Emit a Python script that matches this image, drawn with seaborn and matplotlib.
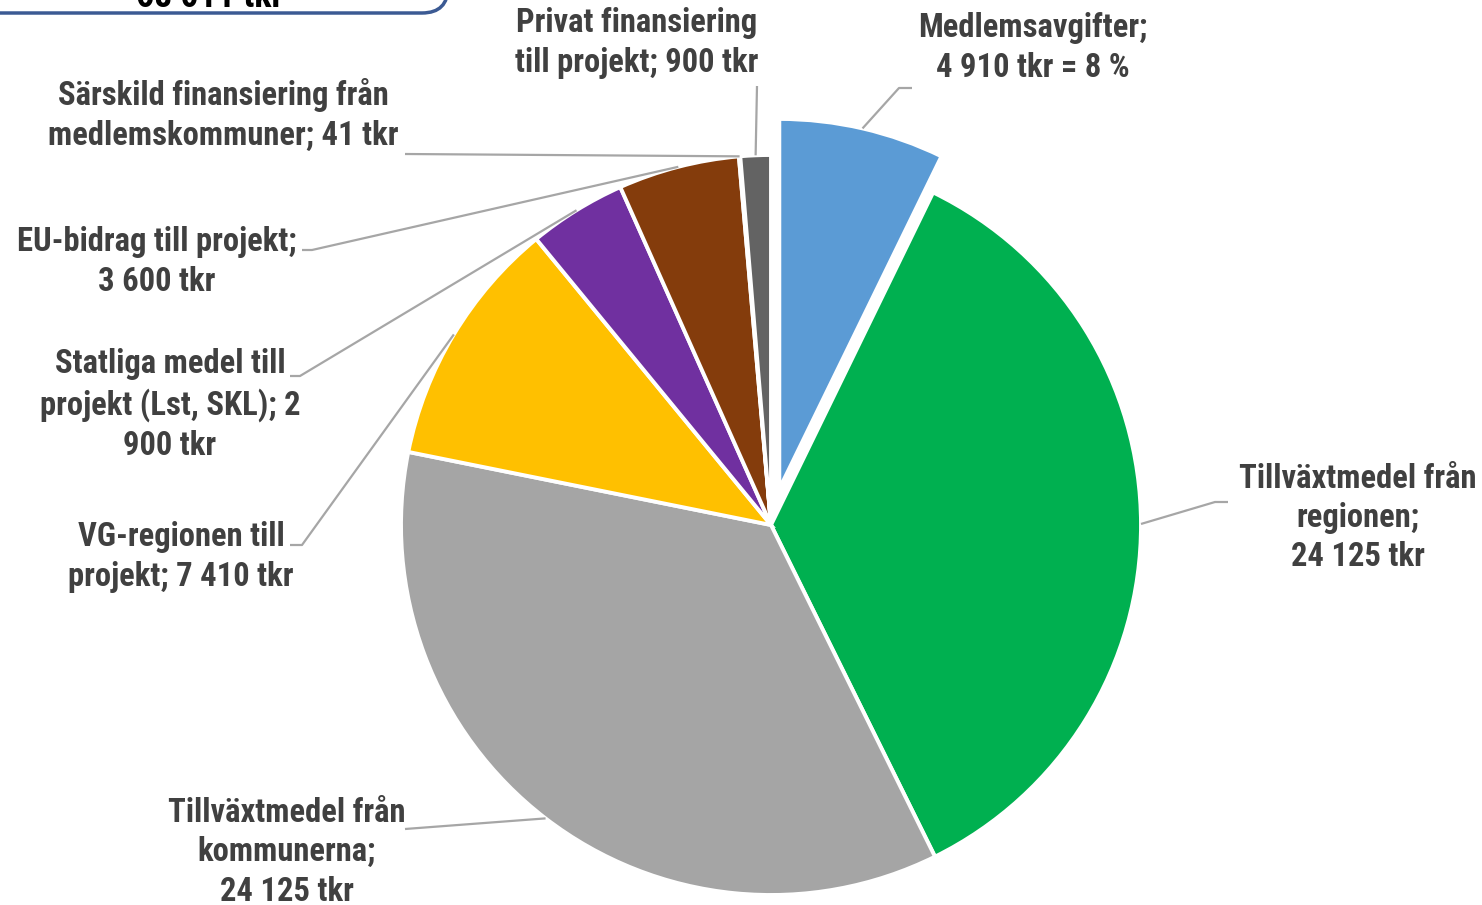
import numpy as np
import matplotlib
matplotlib.use("Agg")
import matplotlib.pyplot as plt
from matplotlib.patches import FancyBboxPatch
from matplotlib import font_manager as fm
import seaborn as sns

# ---- data ----
names = ["Medlemsavgifter", "Tillväxtmedel från regionen", "Tillväxtmedel från kommunerna",
         "VG-regionen till projekt", "Statliga medel till projekt (Lst, SKL)",
         "EU-bidrag till projekt", "Särskild finansiering från medlemskommuner",
         "Privat finansiering till projekt"]
values = [4910, 24125, 24125, 7410, 2900, 3600, 41, 900]
label_texts = ["Medlemsavgifter;\n4 910 tkr = 8 %",
               "Tillväxtmedel från\nregionen;\n24 125 tkr",
               "Tillväxtmedel från\nkommunerna;\n24 125 tkr",
               "VG-regionen till\nprojekt; 7 410 tkr",
               "Statliga medel till\nprojekt (Lst, SKL); 2\n900 tkr",
               "EU-bidrag till projekt;\n3 600 tkr",
               "Särskild finansiering från\nmedlemskommuner; 41 tkr",
               "Privat finansiering\ntill projekt; 900 tkr"]
colors = ["#5B9BD5", "#00B050", "#A5A5A5", "#FFC000", "#7030A0", "#843C0C", "#ED7D31", "#636363"]
explode_frac = [0.1, 0, 0, 0, 0, 0, 0, 0]
total_text = "68 011 tkr"

# ---- font: look for a condensed bold face ----
def find_condensed():
    prefs = ["robotocondensed-bold.", "liberationsansnarrow-bold.", "dejavusanscondensed-bold.",
             "condensed-bold", "narrow-bold", "condensedbold"]
    files = [f.fname for f in fm.fontManager.ttflist]
    for p in prefs:
        for f in files:
            if p in f.lower().replace(" ", ""):
                return f
    return None

cfile = find_condensed()

W, H = 1482, 905
sns.set_theme(style="white")
plt.rcParams['font.family'] = ['DejaVu Sans']
if cfile:
    fp = fm.FontProperties(fname=cfile, size=23.5)
else:
    fp = fm.FontProperties(family="DejaVu Sans", weight="bold", size=18)

fig = plt.figure(figsize=(W / 100, H / 100), dpi=100)
ax = fig.add_axes([0, 0, 1, 1])
cx, cy, R = 771, H - 525, 370

wedges, _ = ax.pie(values, colors=colors, explode=[e * R for e in explode_frac],
                   startangle=90, counterclock=False, radius=R, center=(cx, cy),
                   wedgeprops=dict(edgecolor="white", linewidth=2.8))
ax.set_xlim(0, W)
ax.set_ylim(0, H)
ax.set_aspect("equal")
ax.axis("off")

label_pos = [(1033, 48), (1358, 518), (287, 852), (181, 557), (170, 405), (157, 262), (223, 115), (637, 43)]
elbows = [[(912, 88), (899, 88)],
          [(1228, 502), (1215, 502)],
          [(405, 829)],
          [(290, 545), (302, 545)],
          [(290, 376), (300, 376)],
          [(302, 250), (312, 250)],
          [(405, 154)],
          [(757, 86)]]

line_col = "#A6A6A6"
text_col = "#404040"
for w, txt, (lx, ly), elb in zip(wedges, label_texts, label_pos, elbows):
    th = np.deg2rad((w.theta1 + w.theta2) / 2)
    wx, wy = w.center
    ax_pt = (wx + w.r * np.cos(th), wy + w.r * np.sin(th))
    xs = [p[0] for p in elb] + [ax_pt[0]]
    ys = [H - p[1] for p in elb] + [ax_pt[1]]
    ax.plot(xs, ys, color=line_col, lw=1.6, solid_capstyle="butt", zorder=1)
    ax.text(lx, H - ly, txt, ha="center", va="center", multialignment="center",
            fontproperties=fp, color=text_col, linespacing=1.3)

box = FancyBboxPatch((-40, H - 13), 488, 80, boxstyle="round,pad=0,rounding_size=26",
                     facecolor="white", edgecolor="#3B5A93", linewidth=2.5, zorder=3)
ax.add_patch(box)
fp2 = fp.copy()
fp2.set_size(fp.get_size() * 1.1)
ax.text(210, H - 7, total_text, ha="center", va="baseline", fontproperties=fp2,
        color="black", zorder=4)

fig.savefig("out.png", dpi=100)
